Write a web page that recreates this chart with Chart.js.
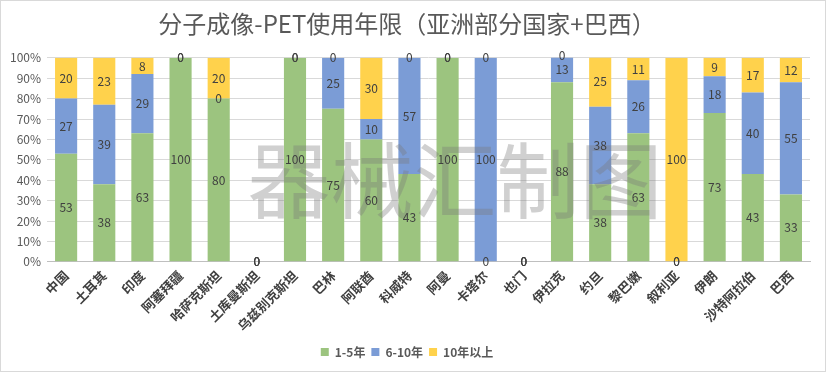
<!DOCTYPE html>
<html><head><meta charset="utf-8">
<script src="https://cdn.jsdelivr.net/npm/chart.js@4"></script>
<style>html,body{margin:0;padding:0;background:#fff}#wrap{width:826px;height:372px;position:relative}</style>
</head><body><div id="wrap"><canvas id="c" width="826" height="372"></canvas></div>
<script>
const categories = ['中国','土耳其','印度','阿塞拜疆','哈萨克斯坦','土库曼斯坦','乌兹别克斯坦','巴林','阿联酋','科威特','阿曼','卡塔尔','也门','伊拉克','约旦','黎巴嫩','叙利亚','伊朗','沙特阿拉伯','巴西'];
const years1to5   = [53,38,63,100,80,0,100,75,60,43,100,0,0,88,38,63,0,73,43,33];
const years6to10  = [27,39,29,0,0,0,0,25,10,57,0,100,0,13,38,26,0,18,40,55];
const years10plus = [20,23,8,0,20,0,0,0,30,0,0,0,0,0,25,11,100,9,17,12];
const seriesNames = ['1-5年','6-10年','10年以上'];
const yTicks = [0,10,20,30,40,50,60,70,80,90,100];
const titleText = '分子成像-PET使用年限（亚洲部分国家+巴西）';
const watermark = '器械汇制图';

const CJK = '"Noto Sans CJK SC", "Noto Sans", sans-serif';

const overlay = {
  id: 'overlay',
  afterDatasetsDraw(chart) {
    const ctx = chart.ctx;
    ctx.save();
    ctx.font = '83px ' + CJK;
    ctx.fillStyle = 'rgba(120,120,120,0.35)';
    ctx.textAlign = 'center';
    ctx.textBaseline = 'middle';
    ctx.fillText(watermark, 455, 180);
    ctx.font = '12px ' + CJK;
    ctx.fillStyle = '#404040';
    chart.data.datasets.forEach((ds, i) => {
      const meta = chart.getDatasetMeta(i);
      meta.data.forEach((el, j) => {
        const v = ds.data[j];
        const y = (el.y + el.base) / 2;
        ctx.fillText(String(v), el.x, y);
      });
    });
    ctx.restore();
  },
  afterDraw(chart) {
    const ctx = chart.ctx;
    ctx.save();
    ctx.strokeStyle = '#d9d9d9';
    ctx.lineWidth = 1;
    ctx.strokeRect(0.5, 0.5, chart.width - 1, chart.height - 1);
    ctx.restore();
  }
};

new Chart(document.getElementById('c'), {
  type: 'bar',
  data: {
    labels: categories,
    datasets: [
      {label: seriesNames[0], data: years1to5, backgroundColor: '#9cc47f'},
      {label: seriesNames[1], data: years6to10, backgroundColor: '#7b9cd6'},
      {label: seriesNames[2], data: years10plus, backgroundColor: '#ffd24c'}
    ]
  },
  options: {
    responsive: false,
    animation: false,
    devicePixelRatio: 1,
    layout: {padding: {left: 4, right: 16, top: 0, bottom: 4}},
    datasets: {bar: {barPercentage: 0.58, categoryPercentage: 1}},
    scales: {
      x: {
        stacked: true,
        grid: {display: false, drawTicks: false},
        border: {color: '#bfbfbf'},
        ticks: {
          autoSkip: false, maxRotation: 45, minRotation: 45, padding: 6,
          color: '#404040', font: {family: CJK, size: 13, weight: 'bold'}
        }
      },
      y: {
        stacked: true, min: 0, max: 100,
        grid: {color: '#d9d9d9', drawTicks: false},
        border: {display: false},
        afterBuildTicks(axis) { axis.ticks = yTicks.map(v => ({value: v})); },
        ticks: {
          padding: 6, color: '#595959',
          font: {family: CJK, size: 12},
          callback: v => v + '%'
        }
      }
    },
    plugins: {
      title: {
        display: true, text: titleText, color: '#595959',
        font: {family: CJK, size: 24, weight: 'normal'},
        padding: {top: 9, bottom: 20}
      },
      legend: {
        position: 'bottom',
        labels: {
          boxWidth: 8, boxHeight: 8, padding: 6, color: '#595959',
          font: {family: CJK, size: 12, weight: 'bold'}
        }
      },
      tooltip: {enabled: false}
    }
  },
  plugins: [overlay]
});
</script></body></html>
